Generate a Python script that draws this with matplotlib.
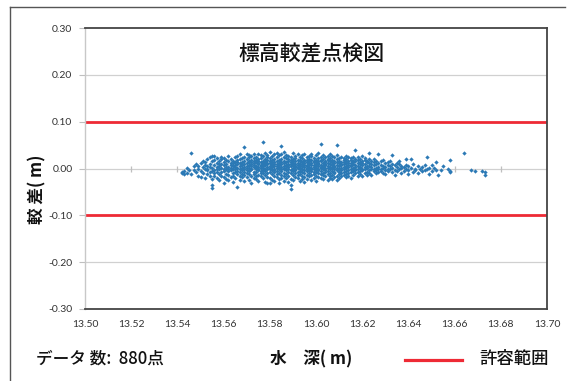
import numpy as np
import matplotlib
matplotlib.use("Agg")
import matplotlib.pyplot as plt
from matplotlib.lines import Line2D

plt.rcParams['font.family'] = ['Noto Sans CJK JP', 'DejaVu Sans']

# ---------------- data ----------------
title = "標高較差点検図"
y_label = "較 差( m)"
x_label = "水　深( m)"
count_label = "データ 数:  880点"
legend_label = "許容範囲"
tolerance = [0.10, -0.10]
x_ticks = [13.50, 13.52, 13.54, 13.56, 13.58, 13.60, 13.62, 13.64, 13.66, 13.68, 13.70]
y_ticks = [-0.30, -0.20, -0.10, 0.00, 0.10, 0.20, 0.30]

# water depth (m) for each column of points
depth_cols = [
    13.542, 13.543, 13.544, 13.545, 13.546, 13.547, 13.548, 13.549, 13.550, 13.551,
    13.552, 13.553, 13.554, 13.555, 13.556, 13.557, 13.558, 13.559, 13.560, 13.561,
    13.562, 13.563, 13.564, 13.565, 13.566, 13.567, 13.568, 13.569, 13.570, 13.571,
    13.572, 13.573, 13.574, 13.575, 13.576, 13.577, 13.578, 13.579, 13.580, 13.581,
    13.582, 13.583, 13.584, 13.585, 13.586, 13.587, 13.588, 13.589, 13.590, 13.591,
    13.592, 13.593, 13.594, 13.595, 13.596, 13.597, 13.598, 13.599, 13.600, 13.601,
    13.602, 13.603, 13.604, 13.605, 13.606, 13.607, 13.608, 13.609, 13.610, 13.611,
    13.612, 13.613, 13.614, 13.615, 13.616, 13.617, 13.618, 13.619, 13.620, 13.621,
    13.622, 13.623, 13.624, 13.625, 13.626, 13.627, 13.628, 13.629, 13.630, 13.631,
    13.632, 13.633, 13.634, 13.635, 13.636, 13.637, 13.638, 13.639, 13.640, 13.641,
    13.642, 13.643, 13.644, 13.645, 13.646, 13.647, 13.648, 13.649, 13.650, 13.651,
    13.652, 13.653, 13.654, 13.655, 13.657, 13.658, 13.664, 13.667, 13.669, 13.672,
    13.673,
]

# elevation difference (mm) of the points in each column
diff_mm_cols = [
    [-8, -10], [-6, -11], [-9, 2], [-4], [34, -12], [-3, 5], [-7, 10], [0, -15, 6],
    [-5, 12, -18], [3, -9, 17],
    [-2, 8, -20, 14], [5, -12, 20, -4, 0], [-8, 10, 24, -17, 3],
    [-35, -42, 2, -6, 15, 26, -22], [-10, 8, 18, -3, 27, -15], [4, -20, 12, -8, 22, 0],
    [-12, 6, -25, 16, -2, 10], [2, -7, 20, -16, 9, 25], [-32, -5, 13, 0, -18, 22, 7],
    [10, -11, 3, 19, -22, -2],
    [-6, 15, 27, -14, 4, 0, -25], [8, -19, -3, 12, 21, 2], [-9, 0, 17, -28, 6, 11, -15],
    [3, 24, -8, -20, 14, 7, -2], [-39, -12, 9, 1, 18, -5, 26, 13],
    [5, -16, 11, -24, 20, 0, -8, 30], [-3, 14, 22, -11, 7, -19, 2, 9],
    [46, 0, 16, -7, 25, -14, 10, -27, 4], [-4, 12, 30, -18, 6, 20, -9, 1],
    [8, -12, 17, 2, -25, 24, -5, 13, 28],
    [-2, 10, -15, 19, 5, -30, 27, 0, 14], [11, -7, 3, 22, -20, 16, 7, -11, 30],
    [-1, 18, -22, 6, 13, 25, -8, 2, -16], [4, -13, 20, 9, 32, -4, 15, -26, 0, 11],
    [-6, 8, 23, -17, 14, 1, 28, -10, 5], [57, 2, -9, 17, 10, -21, 26, -3, 12, 6],
    [-5, 13, 33, -14, 7, 20, 0, -28, 16], [9, -2, 19, -18, 4, 29, -9, 12, 24, -31],
    [-32, 1, 15, -7, 22, 6, -20, 11, 35, -1], [7, -11, 18, 3, 27, -24, 13, -4, 9],
    [-3, 14, 31, -16, 5, 21, -8, 0, 10, -27], [10, -6, 24, 2, -19, 16, 33, -12, 6],
    [-9, 4, 19, 12, -23, 28, -2, 8, 15, -30], [47, 3, -14, 21, 9, -5, 30, 14, -20, 0],
    [-1, 12, -17, 25, 6, -26, 17, 2, -9, 36], [8, -4, 22, 13, -21, 29, 0, -11, 5],
    [-7, 17, 3, -15, 26, 10, -28, 20, -2, 7], [-43, -36, 5, -10, 14, 24, -3, 18, 9, -22],
    [2, -13, 20, 7, 33, -6, 11, -25, 15, -1], [-4, 10, 27, -18, 3, 16, -9, 22, 6, 0],
    [12, -7, 19, 1, -21, 30, 8, -14, 4], [-2, 15, 5, -11, 25, 10, -27, 18, -5, 2],
    [6, -16, 22, 0, 13, -8, 28, -23, 9], [-10, 4, 18, 11, -3, 32, -19, 7, 15, -28],
    [1, 14, -6, 24, 8, -13, 19, -1, 5, -22], [9, -9, 21, 3, -17, 27, 12, -4, 16],
    [-5, 11, 2, 26, -14, 7, 18, -24, 0, 31], [7, -8, 16, -2, 23, 13, -20, 4, -11],
    [-3, 19, 6, -15, 28, 10, -26, 1, 14, -7], [12, 0, -10, 22, 5, -18, 17, 9, -4, 34],
    [53, -6, 15, 3, -21, 25, 8, -12, 19, 1], [4, -14, 20, 11, -2, 29, -9, 6, -23],
    [-8, 13, 1, 24, -17, 7, 16, -4, 10], [6, -11, 18, 2, -25, 27, 12, -6, 21],
    [-2, 9, -16, 23, 4, 15, -9, 31, -20], [10, -5, 19, 1, -13, 26, 7, -22, 14],
    [-7, 3, 16, 12, -19, 24, 0, -10, 6], [50, 8, -3, 20, -15, 13, 2, 28, -24],
    [-4, 11, 5, -12, 22, 17, -8, 0, -21], [7, -9, 14, 2, 25, -17, 10, -3],
    [-1, 18, 4, -14, 9, 23, -7, 13], [11, -5, 20, 1, -19, 15, 6, -11, 27],
    [-3, 8, 16, -10, 24, 3, -16, 12], [5, -8, 19, 0, 11, -20, 22, 7],
    [-6, 13, 2, 25, -13, 9, -2, 17], [39, 4, -10, 15, 8, -4, 21, 0],
    [-2, 11, 18, -15, 6, 24, -8], [9, -6, 14, 1, -11, 20, 4],
    [-4, 16, 7, -17, 26, 0, 12], [3, -9, 19, 10, -2, 22],
    [-7, 13, 1, 17, -13, 6], [34, 5, -3, 11, 21, -10], [-1, 9, -14, 16, 3],
    [7, -6, 13, 0, 20], [-3, 10, 2, 16, -10], [31, 4, -7, 12, 0], [-2, 8, 15, -5],
    [6, -9, 1, 19], [-4, 11, 3, -12], [8, 0, 14, -6],
    [-1, 5, 17], [28, 2, -8, 10], [-3, 7, -13], [4, 12, -5], [-2, 9, 15],
    [1, -10, 6], [-6, 3], [20, -1, 8], [-4, 5, -12], [21, 2],
    [-7, 10], [0, -3], [6, -9], [-2], [3, -6], [-4, 8], [24, -1], [-11, 2],
    [-5, 7], [1],
    [14, -3], [-14], [-4], [5], [-2], [18, -8, -5], [33], [-3], [-6], [-5],
    [-14, -8],
]

depth = np.concatenate([[x] * len(ys) for x, ys in zip(depth_cols, diff_mm_cols)])
diff = np.concatenate([np.array(ys, dtype=float) for ys in diff_mm_cols]) / 1000.0

# ---------------- figure ----------------
W, H = 571, 381
fig = plt.figure(figsize=(W / 100, H / 100), dpi=100)
fig.patch.set_facecolor('white')

def fx(px):
    return px / W

def fy(py):
    return 1 - py / H

# outer frame of the picture
fig.add_artist(Line2D([fx(10), fx(10)], [fy(7), fy(381)], color='#555555', lw=1.0))
fig.add_artist(Line2D([fx(10), fx(565)], [fy(7), fy(7)], color='#555555', lw=1.0))

ax = fig.add_axes([fx(85), fy(309), fx(547) - fx(85), fy(28) - fy(309)])
ax.set_xlim(13.50, 13.70)
ax.set_ylim(-0.30, 0.30)

# grid lines
for yv in y_ticks:
    if yv not in (-0.30, 0.30):
        ax.axhline(yv, color='#d0d0d0', lw=0.9, zorder=1)

# tick marks on the zero line (category axis crossing)
ax.plot(x_ticks[1:-1], [0] * (len(x_ticks) - 2), ls='none', marker='|',
        markersize=4, color='#bfbfbf', mew=0.9, zorder=1)

# tolerance lines
for t in tolerance:
    ax.axhline(t, color='#ee2a35', lw=2.0, zorder=2)

# points
ax.plot(depth, diff, ls='none', marker='D', markersize=2.2, mew=0,
        color='#2b79b5', zorder=3)

# axes styling
ax.set_xticks(x_ticks)
ax.set_yticks(y_ticks)
ax.set_xticklabels([f"{v:.2f}" for v in x_ticks], fontsize=7.5, family=['Lato', 'DejaVu Sans'])
ax.set_yticklabels([f"{v:.2f}" for v in y_ticks], fontsize=7.5, family=['Lato', 'DejaVu Sans'])
ax.tick_params(axis='x', length=0, pad=8, colors='#333333')
ax.tick_params(axis='y', length=4, width=0.8, pad=5, color='#bfbfbf', labelcolor='#333333')
ax.spines['left'].set_color('#c8c8c8')
ax.spines['left'].set_linewidth(1.0)
for s in ('top', 'right', 'bottom'):
    ax.spines[s].set_color('#444444')
    ax.spines[s].set_linewidth(1.3)

# titles and labels
ax.text(0.49, 0.905, title, transform=ax.transAxes, ha='center', va='center',
        fontsize=15, fontweight='medium', color='#111111')
fig.text(fx(37), fy(189), y_label, rotation=90, ha='center', va='center',
         fontsize=12, fontweight='bold', color='#111111')
fig.text(fx(36), fy(359), count_label, ha='left', va='center', fontsize=12,
         fontweight='medium', color='#111111')
fig.text(fx(311), fy(359), x_label, ha='center', va='center', fontsize=12,
         fontweight='bold', color='#111111')
fig.add_artist(Line2D([fx(405), fx(462)], [fy(360), fy(360)], color='#ee2a35', lw=2.3))
fig.text(fx(479), fy(359), legend_label, ha='left', va='center', fontsize=12.5,
         fontweight='medium', color='#111111')

fig.savefig('out.png', dpi=100)
